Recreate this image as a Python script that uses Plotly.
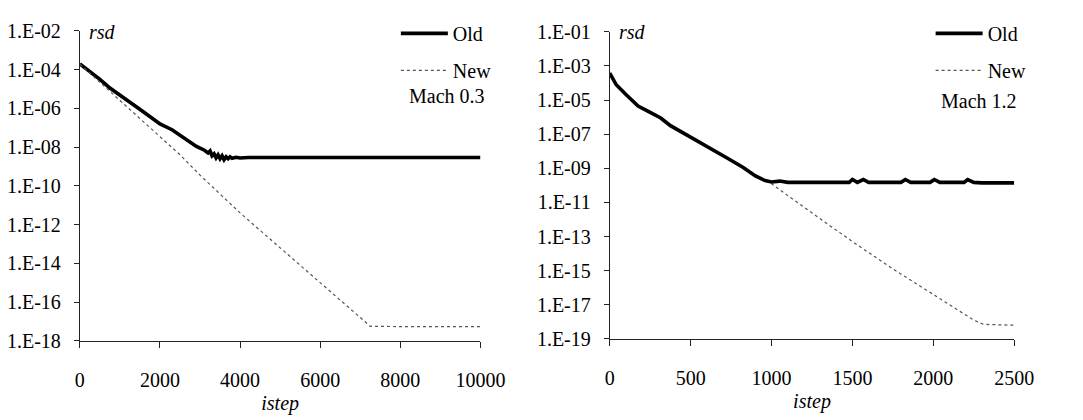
import plotly.graph_objects as go

# ---------- data: Mach 0.3 (left panel) ----------
old_x_m03 = [0, 100, 250, 500, 750, 1000, 1165, 1400, 1600, 1800, 2000, 2300, 2500, 2700,
             2900, 3000, 3100, 3200, 3250, 3300, 3350, 3400, 3450, 3500, 3550, 3600, 3650,
             3700, 3750, 3800, 3900, 4000, 4200, 5000, 6000, 7000, 8000, 9000, 10000]
old_y_m03 = [2.0e-4, 1.41e-4, 7.9e-5, 3.16e-5, 1.12e-5, 5.0e-6, 2.75e-6, 1.26e-6, 6.3e-7,
             3.16e-7, 1.58e-7, 7.9e-8, 4.0e-8, 2.24e-8, 1.12e-8, 8.9e-9, 7.1e-9, 5.0e-9,
             6.3e-9, 3.55e-9, 4.5e-9, 2.8e-9, 4.0e-9, 2.5e-9, 3.55e-9, 2.24e-9, 3.16e-9,
             2.5e-9, 3.16e-9, 2.63e-9, 3.0e-9, 2.75e-9, 2.9e-9, 2.9e-9, 2.9e-9, 2.9e-9,
             2.9e-9, 2.9e-9, 2.9e-9]
new_x_m03 = [0, 500, 1000, 1500, 2000, 2500, 3000, 3500, 4000, 4500, 5000, 5500, 6000,
             6500, 6800, 7000, 7150, 7250, 8000, 9000, 10000]
new_y_m03 = [1.9e-4, 2.24e-5, 2.5e-6, 3.16e-7, 3.55e-8, 4.0e-9, 3.55e-10, 3.55e-11, 4.0e-12,
             5.0e-13, 6.3e-14, 7.9e-15, 1.0e-15, 1.26e-16, 3.55e-17, 1.58e-17, 7.9e-18,
             5.6e-18, 5.4e-18, 5.4e-18, 5.4e-18]

# ---------- data: Mach 1.2 (right panel) ----------
old_x_m12 = [0, 40, 100, 175, 235, 315, 375, 510, 625, 725, 825, 900, 960, 1000, 1050, 1080,
             1100, 1300, 1480, 1500, 1530, 1567, 1600, 1800, 1827, 1860, 1980, 2006, 2040,
             2190, 2212, 2250, 2300, 2500]
old_y_m12 = [3.8e-4, 7.9e-5, 2.14e-5, 4.5e-6, 2.24e-6, 8.9e-7, 3.16e-7, 5.6e-8, 1.26e-8,
             4.0e-9, 1.12e-9, 3.55e-10, 1.9e-10, 1.58e-10, 1.78e-10, 1.5e-10, 1.5e-10,
             1.5e-10, 1.5e-10, 2.2e-10, 1.5e-10, 2.2e-10, 1.5e-10, 1.5e-10, 2.2e-10,
             1.5e-10, 1.5e-10, 2.2e-10, 1.5e-10, 1.5e-10, 2.2e-10, 1.5e-10, 1.4e-10, 1.4e-10]
new_x_m12 = [0, 40, 100, 175, 235, 315, 375, 510, 625, 725, 825, 900, 960, 1000, 1100,
             1250, 1500, 1750, 2000, 2150, 2250, 2310, 2500]
new_y_m12 = [3.8e-4, 7.9e-5, 2.14e-5, 4.5e-6, 2.24e-6, 8.9e-7, 3.16e-7, 5.6e-8, 1.26e-8,
             4.0e-9, 1.12e-9, 3.55e-10, 1.9e-10, 1.26e-10, 2.5e-11, 2.5e-12, 5.0e-14,
             1.26e-15, 4.0e-17, 5.0e-18, 1.26e-18, 7.1e-19, 6.3e-19]

# ---------- ticks ----------
x_ticks_m03 = [0, 2000, 4000, 6000, 8000, 10000]
x_lbl_m03 = ["0", "2000", "4000", "6000", "8000", "10000"]
x_ticks_m12 = [0, 500, 1000, 1500, 2000, 2500]
x_lbl_m12 = ["0", "500", "1000", "1500", "2000", "2500"]
y_exp_m03 = [-18, -16, -14, -12, -10, -8, -6, -4, -2]
y_exp_m12 = [-19, -17, -15, -13, -11, -9, -7, -5, -3, -1]
y_lbl_m03 = ["1.E-18", "1.E-16", "1.E-14", "1.E-12", "1.E-10", "1.E-08", "1.E-06", "1.E-04", "1.E-02"]
y_lbl_m12 = ["1.E-19", "1.E-17", "1.E-15", "1.E-13", "1.E-11", "1.E-09", "1.E-07", "1.E-05", "1.E-03", "1.E-01"]

W, H = 1083, 420
FONT = "Liberation Serif, Times New Roman, DejaVu Serif, serif"
FS = 20

fig = go.Figure()
old_style = dict(color="black", width=3.6)
new_style = dict(color="#555555", width=1.2, dash="dot")

fig.add_trace(go.Scatter(x=old_x_m03, y=old_y_m03, mode="lines", name="Old", line=old_style,
                         xaxis="x", yaxis="y", legend="legend", legendgroup="a"))
fig.add_trace(go.Scatter(x=new_x_m03, y=new_y_m03, mode="lines", name="New", line=new_style,
                         xaxis="x", yaxis="y", legend="legend", legendgroup="b"))
fig.add_trace(go.Scatter(x=new_x_m12, y=new_y_m12, mode="lines", name="New", line=new_style,
                         xaxis="x2", yaxis="y2", legend="legend2", legendgroup="d",
                         legendrank=2))
fig.add_trace(go.Scatter(x=old_x_m12, y=old_y_m12, mode="lines", name="Old", line=old_style,
                         xaxis="x2", yaxis="y2", legend="legend2", legendgroup="c",
                         legendrank=1))

def px_x(p):
    return p / W

def px_y(p):
    return 1 - p / H

tickfont = dict(family=FONT, size=FS, color="black")
axis_common = dict(showline=True, linecolor="#222222", linewidth=1, showgrid=False,
                   zeroline=False, ticks="outside", tickcolor="#222222", tickfont=tickfont)

fig.update_layout(
    width=W, height=H,
    margin=dict(l=0, r=0, t=0, b=0),
    paper_bgcolor="white", plot_bgcolor="white",
    font=dict(family=FONT, size=FS, color="black"),
    xaxis=dict(domain=[px_x(77), px_x(489)], range=[0, 10000], anchor="y",
               tickvals=x_ticks_m03, ticktext=x_lbl_m03, ticklen=6, ticklabelstandoff=15,
               title=dict(text="<i>istep</i>", font=dict(family=FONT, size=FS), standoff=6),
               **axis_common),
    yaxis=dict(domain=[px_y(348), px_y(21)], type="log", range=[-18, -2], anchor="x",
               tickvals=[10.0 ** e for e in y_exp_m03], ticktext=y_lbl_m03, ticklen=5,
               ticklabelstandoff=9, **axis_common),
    xaxis2=dict(domain=[px_x(622), px_x(1038)], range=[0, 2500], anchor="y2",
                tickvals=x_ticks_m12, ticktext=x_lbl_m12, ticklen=6, ticklabelstandoff=15,
                title=dict(text="<i>istep</i>", font=dict(family=FONT, size=FS), standoff=6),
                **axis_common),
    yaxis2=dict(domain=[px_y(346), px_y(22)], type="log", range=[-19, -1], anchor="x2",
                tickvals=[10.0 ** e for e in y_exp_m12], ticktext=y_lbl_m12, ticklen=5,
                ticklabelstandoff=9, **axis_common),
    legend=dict(x=px_x(402), y=px_y(3), xanchor="left", yanchor="top",
                bgcolor="rgba(0,0,0,0)", font=dict(family=FONT, size=FS),
                itemwidth=47, tracegroupgap=8, traceorder="grouped"),
    legend2=dict(x=px_x(952), y=px_y(3), xanchor="left", yanchor="top",
                 bgcolor="rgba(0,0,0,0)", font=dict(family=FONT, size=FS),
                 itemwidth=47, tracegroupgap=8, traceorder="grouped"),
    annotations=[
        dict(text="<i>rsd</i>", x=px_x(84), y=px_y(22), xref="paper", yref="paper",
             xanchor="left", yanchor="middle", showarrow=False,
             font=dict(family=FONT, size=FS)),
        dict(text="<i>rsd</i>", x=px_x(629), y=px_y(22), xref="paper", yref="paper",
             xanchor="left", yanchor="middle", showarrow=False,
             font=dict(family=FONT, size=FS)),
        dict(text="Mach 0.3", x=px_x(455), y=px_y(90), xref="paper", yref="paper",
             xanchor="center", yanchor="middle", showarrow=False,
             font=dict(family=FONT, size=FS)),
        dict(text="Mach 1.2", x=px_x(1002), y=px_y(95), xref="paper", yref="paper",
             xanchor="center", yanchor="middle", showarrow=False,
             font=dict(family=FONT, size=FS)),
    ],
)

fig.write_html("out.html")
